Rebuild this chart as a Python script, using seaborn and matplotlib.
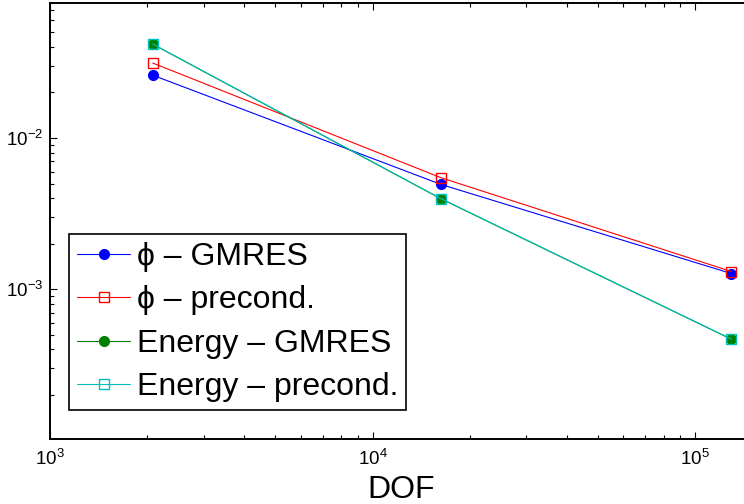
import numpy as np
import pandas as pd
import matplotlib
matplotlib.use("Agg")
import matplotlib.pyplot as plt
import seaborn as sns

# ---- data ----
dof = [2082, 16310, 129640]
phi_gmres = [0.0260, 0.00493, 0.00127]
phi_precond = [0.0313, 0.00546, 0.00131]
energy_gmres = [0.0417, 0.00396, 0.000467]
energy_precond = [0.0418, 0.00397, 0.000468]
labels = ["\u03d5 \u2013 GMRES", "\u03d5 \u2013 precond.",
          "Energy \u2013 GMRES", "Energy \u2013 precond."]
x_label = "DOF"

sns.set_style("ticks")
plt.rcParams["font.family"] = ["Liberation Sans", "DejaVu Sans"]
plt.rcParams["mathtext.fontset"] = "custom"
plt.rcParams["mathtext.rm"] = "Liberation Sans"
plt.rcParams["mathtext.it"] = "Liberation Sans:italic"
plt.rcParams["mathtext.bf"] = "Liberation Sans:bold"
for k in ["text.color", "axes.labelcolor", "xtick.color", "ytick.color", "axes.edgecolor"]:
    plt.rcParams[k] = "black"

fig = plt.figure(figsize=(7.44, 5.04), dpi=100)
W, H = 744, 504
left_px, right_px, top_px, bot_px = 50, 744, 3, 439
ax = fig.add_axes([left_px / W, 1 - bot_px / H, (right_px - left_px) / W, (bot_px - top_px) / H])

series = [
    (phi_gmres, labels[0], dict(color=(0, 0, 1), marker="o", markerfacecolor=(0, 0, 1), markeredgecolor=(0, 0, 1), markersize=7)),
    (phi_precond, labels[1], dict(color=(1, 0, 0), marker="s", markerfacecolor="none", markeredgecolor=(1, 0, 0), markersize=7)),
    (energy_gmres, labels[2], dict(color=(0, 0.5, 0), marker="o", markerfacecolor=(0, 0.5, 0), markeredgecolor=(0, 0.5, 0), markersize=7)),
    (energy_precond, labels[3], dict(color=(0, 0.75, 0.75), marker="s", markerfacecolor="none", markeredgecolor=(0, 0.75, 0.75), markersize=7)),
]
for vals, lab, kw in series:
    df = pd.DataFrame({"x": dof, "y": vals})
    sns.lineplot(data=df, x="x", y="y", ax=ax, label=lab, linewidth=0.8,
                 markeredgewidth=1.0, **kw)

ax.set_xscale("log")
ax.set_yscale("log")
ax.set_xlim(1e3, 10 ** (3 + (right_px - left_px) / 322.5))
ax.set_ylim(10 ** -3.99, 10 ** (-2 + (138 - top_px) / 151.3))

ax.spines["right"].set_visible(False)
for s in ["left", "top", "bottom"]:
    ax.spines[s].set_linewidth(1.4)
    ax.spines[s].set_color("black")

ax.tick_params(which="both", direction="in", top=True, right=False, bottom=True, left=True, width=0.8, color="black")
ax.tick_params(which="major", length=5)
ax.tick_params(which="minor", length=3)
ax.tick_params(axis="x", which="major", labelsize=13.5, pad=7)
ax.tick_params(axis="y", which="major", labelsize=13.5, pad=5)

ax.set_xlabel(x_label, fontsize=23)
ax.xaxis.set_label_coords((401 - left_px) / (right_px - left_px), -(475 - bot_px) / (bot_px - top_px))
ax.set_ylabel("")

leg = ax.legend(loc="upper left", bbox_to_anchor=((69 - left_px) / (right_px - left_px), 1 - (234 - top_px) / (bot_px - top_px)),
                fontsize=23, frameon=True, fancybox=False, edgecolor="black", framealpha=1,
                handlelength=1.67, handletextpad=0.2, borderpad=0.25, labelspacing=0.42, borderaxespad=0)
leg.get_frame().set_linewidth(1.2)

fig.savefig("out.png", dpi=100)
